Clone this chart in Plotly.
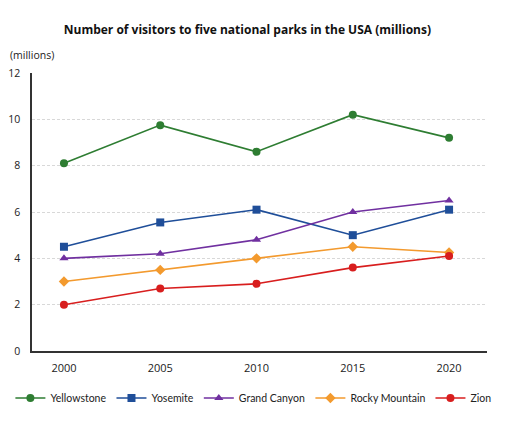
import plotly.graph_objects as go

# Dados
anos = [2000, 2005, 2010, 2015, 2020]
yellowstone = [8.1, 9.75, 8.6, 10.2, 9.2]
yosemite = [4.5, 5.55, 6.1, 5.0, 6.1]
grand_canyon = [4.0, 4.2, 4.8, 6.0, 6.5]
rocky_mountain = [3.0, 3.5, 4.0, 4.5, 4.25]
zion = [2.0, 2.7, 2.9, 3.6, 4.1]

series = [
    ("Yellowstone", yellowstone, "#2e7d32", "circle", "legend"),
    ("Yosemite", yosemite, "#1f4e99", "square", "legend"),
    ("Grand Canyon", grand_canyon, "#7030a0", "triangle-up", "legend"),
    ("Rocky Mountain", rocky_mountain, "#f39a2e", "diamond", "legend2"),
    ("Zion", zion, "#d81e1e", "circle", "legend2"),
]

fig = go.Figure()
for nome, valores, cor, simbolo, leg in series:
    fig.add_trace(go.Scatter(
        x=anos, y=valores, name=nome, mode="lines+markers", legend=leg,
        line=dict(color=cor, width=1.6),
        marker=dict(symbol=simbolo, size=8, color=cor),
    ))

# a página tem 8px de margem no body, por isso 504x416
leg_base = dict(orientation="h", xref="container", yref="container",
                y=0.0625, yanchor="middle",
                font=dict(family="Lato", size=10.5), itemwidth=30, tracegroupgap=0)
fig.update_layout(
    width=504, height=416,
    margin=dict(l=24, r=25, t=65, b=73),
    paper_bgcolor="white", plot_bgcolor="white",
    font=dict(family="Open Sans", size=11, color="#222"),
    title=dict(text="<b>Number of visitors to five national parks in the USA (millions)</b>",
               x=0.475, xanchor="center", y=0.947, yanchor="middle",
               font=dict(size=12, color="#111")),
    showlegend=True,
    legend=dict(leg_base, x=0.6, xanchor="right"),
    legend2=dict(leg_base, x=0.6, xanchor="left"),
    annotations=[dict(text="(millions)", xref="paper", yref="paper", x=-0.0527, y=1.065,
                      xanchor="left", yanchor="middle", showarrow=False,
                      font=dict(size=10.5))],
)
fig.update_xaxes(range=[1998.34, 2021.97], tickvals=anos, showgrid=False,
                 showline=True, linecolor="#333", linewidth=1.5, automargin=False,
                 tickfont=dict(size=11), ticks="", ticklabelstandoff=6)
fig.update_yaxes(range=[0, 12], dtick=2, showgrid=True, gridcolor="#d8d8d8",
                 griddash="3px,2px", gridwidth=1, zeroline=False, automargin=False,
                 showline=True, linecolor="#333", linewidth=1.5,
                 tickfont=dict(size=10.5), ticks="", ticklabelstandoff=8)

fig.write_html("out.html")
